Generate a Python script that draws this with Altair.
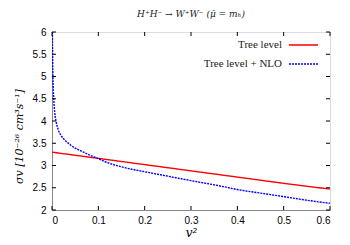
import altair as alt
import pandas as pd

# ---- data ----
tree_x = [0.0, 0.1, 0.2, 0.3, 0.4, 0.5, 0.6]
tree_y = [3.30, 3.16, 3.02, 2.88, 2.74, 2.60, 2.47]

nlo_x = [0.0008, 0.0015, 0.0025, 0.004, 0.006, 0.009, 0.0136, 0.02, 0.028, 0.04,
         0.05, 0.06, 0.08, 0.096, 0.121, 0.15, 0.2, 0.25, 0.3, 0.363, 0.4, 0.45,
         0.5, 0.55, 0.6]
nlo_y = [6.0, 5.3, 4.8, 4.45, 4.18, 3.98, 3.80, 3.67, 3.57, 3.46,
         3.39, 3.34, 3.24, 3.17, 3.06, 2.97, 2.86, 2.76, 2.66, 2.54, 2.46, 2.38,
         2.30, 2.22, 2.15]

series_names = ["Tree level", "Tree level + NLO"]
series_colors = ["#ff0000", "#0000ff"]

x_ticks = [0, 0.1, 0.2, 0.3, 0.4, 0.5, 0.6]
y_ticks = [2, 2.5, 3, 3.5, 4, 4.5, 5, 5.5, 6]

title_text = "H⁺H⁻ → W⁺W⁻ (μ̄ = mₕ)"
y_title = "σv [10⁻²⁶ cm³s⁻¹]"
x_title = "v²"

W, H = 278, 178
FONT = "Liberation Serif"
MFONT = "DejaVu Serif"

df = pd.concat([
    pd.DataFrame({"x": tree_x, "y": tree_y, "s": series_names[0]}),
    pd.DataFrame({"x": nlo_x, "y": nlo_y, "s": series_names[1]}),
])

xs = alt.Scale(domain=[0, 0.6], nice=False, zero=False)
ys = alt.Scale(domain=[2, 6], nice=False, zero=False)
cs = alt.Scale(domain=series_names, range=series_colors)
ds = alt.Scale(domain=series_names, range=[[1, 0], [2, 1]])

xax = alt.Axis(values=x_ticks, ticks=False, grid=False, labelPadding=5, labelOverlap=False,
               title=x_title, titleFont=MFONT, titleFontSize=12, titleFontStyle="italic",
               titleFontWeight="normal", titlePadding=2, labelFontSize=10, format="~g")
yax = alt.Axis(values=y_ticks, ticks=False, grid=False, labelPadding=6, labelOverlap=False,
               title=y_title, titleFont=MFONT, titleFontSize=11, titleFontWeight="normal",
               titleFontStyle="italic", titlePadding=8, labelFontSize=10, format="~g",
               titleY=104)

lines = alt.Chart(df).mark_line(strokeWidth=1.4, clip=True, interpolate="monotone").encode(
    x=alt.X("x:Q", scale=xs, axis=xax),
    y=alt.Y("y:Q", scale=ys, axis=yax),
    color=alt.Color("s:N", scale=cs, legend=None),
    strokeDash=alt.StrokeDash("s:N", scale=ds, legend=None),
)

xt = pd.DataFrame({"x": x_ticks})
yt = pd.DataFrame({"y": y_ticks})
tk = 4
ticks = [
    alt.Chart(xt).mark_rule(color="black", strokeWidth=1).encode(
        x=alt.X("x:Q", scale=xs, axis=xax), y=alt.value(H), y2=alt.value(H - tk)),
    alt.Chart(xt).mark_rule(color="black", strokeWidth=1).encode(
        x=alt.X("x:Q", scale=xs, axis=xax), y=alt.value(0), y2=alt.value(tk)),
    alt.Chart(yt).mark_rule(color="black", strokeWidth=1).encode(
        y=alt.Y("y:Q", scale=ys, axis=yax), x=alt.value(0), x2=alt.value(tk)),
    alt.Chart(yt).mark_rule(color="black", strokeWidth=1).encode(
        y=alt.Y("y:Q", scale=ys, axis=yax), x=alt.value(W), x2=alt.value(W - tk)),
]

leg = pd.DataFrame({"s": series_names, "row": [0, 1]})
legend_layers = []
for i, name in enumerate(series_names):
    ypix = 13 + 19 * i
    base = alt.Chart(leg).transform_filter(alt.datum.row == i)
    legend_layers.append(base.mark_text(align="right", baseline="middle", font=FONT,
                                        fontSize=11, color="#222").encode(
        x=alt.value(230), y=alt.value(ypix), text="s:N"))
    legend_layers.append(base.mark_rule(strokeWidth=1.4).encode(
        x=alt.value(237), x2=alt.value(266), y=alt.value(ypix),
        color=alt.Color("s:N", scale=cs, legend=None),
        strokeDash=alt.StrokeDash("s:N", scale=ds, legend=None)))

chart = alt.layer(lines, *ticks, *legend_layers).properties(
    width=W, height=H,
    autosize=alt.AutoSizeParams(type="none"),
    padding={"left": 44, "top": 24, "right": 12, "bottom": 34},
    title=alt.TitleParams(title_text, fontSize=9, fontStyle="italic", font=MFONT,
                          fontWeight="normal", color="#222", offset=8, anchor="middle"),
).configure_view(stroke="black", strokeWidth=1.2).configure_axis(
    labelFont=FONT, titleFont=FONT, labelColor="#222", titleColor="#222",
    domainColor="black", domainWidth=1.2,
).configure(background="white")

chart.save("out.html", embed_options={"renderer": "svg", "actions": False})
